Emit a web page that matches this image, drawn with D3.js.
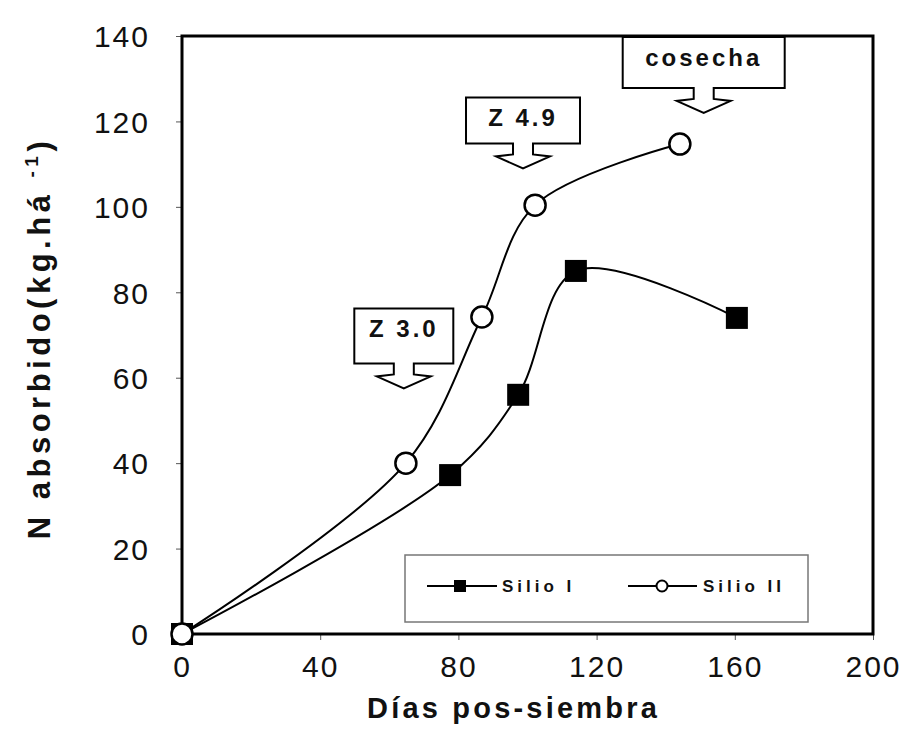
<!DOCTYPE html>
<html>
<head>
<meta charset="utf-8">
<script src="https://cdn.jsdelivr.net/npm/d3@7"></script>
<style>
  html, body { margin: 0; padding: 0; background: #fff; }
  svg { display: block; }
  text { font-family: "Liberation Sans", Arial, sans-serif; fill: #111; }
</style>
</head>
<body>
<svg id="chart" width="910" height="747"></svg>
<script>
// ---- data ----
const xTicks = [0, 40, 80, 120, 160, 200];
const yTicks = [0, 20, 40, 60, 80, 100, 120, 140];
const silio1Days = [0, 77.6, 97.3, 114, 160.6];
const silio1Values = [0, 37.2, 56, 85, 74];
const silio2Days = [0, 64.8, 86.8, 102.2, 144.1];
const silio2Values = [0, 40, 74.2, 100.4, 114.7];
const annotationLabels = ["Z 3.0", "Z 4.9", "cosecha"];
const annotationDays = [64.2, 98.7, 151];
const annotationValues = [57.5, 109, 122];
const seriesNames = ["Silio I", "Silio II"];

// ---- layout ----
const svg = d3.select("#chart");
const L = 182, R = 873, T = 36, B = 634;
const x = d3.scaleLinear().domain([0, 200]).range([L, R]);
const y = d3.scaleLinear().domain([0, 140]).range([B, T]);

// axes
const xAxis = d3.axisBottom(x).tickValues(xTicks).tickSize(6).tickPadding(16);
const yAxis = d3.axisLeft(y).tickValues(yTicks).tickSize(6).tickPadding(26);

const gx = svg.append("g").attr("transform", `translate(0,${B})`).call(xAxis);
const gy = svg.append("g").attr("transform", `translate(${L},0)`).call(yAxis);
[gx, gy].forEach(g => {
  g.select(".domain").remove();
  g.selectAll(".tick line").attr("stroke", "#555").attr("stroke-width", 1);
  g.selectAll(".tick text")
    .style("font-family", "'Liberation Sans', Arial, sans-serif")
    .style("font-size", "30px")
    .style("letter-spacing", "2px")
    .attr("fill", "#111");
});
gx.selectAll(".tick text").attr("dy", "0.71em");
gy.selectAll(".tick text").attr("dy", "0.36em");

// frame
svg.append("rect")
  .attr("x", L).attr("y", T).attr("width", R - L).attr("height", B - T)
  .attr("fill", "none").attr("stroke", "#000").attr("stroke-width", 3);

// axis titles
svg.append("text")
  .attr("x", (L + R) / 2 - 14).attr("y", 718)
  .attr("text-anchor", "middle")
  .style("font-size", "29px").style("font-weight", "bold").style("letter-spacing", "3.2px")
  .text("Días pos-siembra");

const yt = svg.append("text")
  .attr("transform", "translate(50,338) rotate(-90)")
  .attr("text-anchor", "middle")
  .style("font-size", "31px").style("font-weight", "bold").style("letter-spacing", "4.5px");
yt.append("tspan").text("N absorbido(kg.há ");
yt.append("tspan").attr("dy", -12).style("font-size", "19px").text("-1");
yt.append("tspan").attr("dy", 12).text(")");

// lines
const s1 = silio1Days.map((d, i) => [d, silio1Values[i]]);
const s2 = silio2Days.map((d, i) => [d, silio2Values[i]]);
const line = d3.line().x(d => x(d[0])).y(d => y(d[1])).curve(d3.curveCatmullRom.alpha(0.5));

svg.append("path").attr("d", line(s1)).attr("fill", "none").attr("stroke", "#000").attr("stroke-width", 2);
svg.append("path").attr("d", line(s2)).attr("fill", "none").attr("stroke", "#000").attr("stroke-width", 2);

const sq = 22;
svg.selectAll(".sq").data(s1).enter().append("rect")
  .attr("x", d => x(d[0]) - sq / 2).attr("y", d => y(d[1]) - sq / 2)
  .attr("width", sq).attr("height", sq).attr("fill", "#000");
svg.selectAll(".ci").data(s2).enter().append("circle")
  .attr("cx", d => x(d[0])).attr("cy", d => y(d[1])).attr("r", 10.5)
  .attr("fill", "#fff").attr("stroke", "#000").attr("stroke-width", 2.5);

// annotations (callout boxes with down arrows)
const boxW = [99, 114, 162], boxH = [55, 46, 51];
annotationLabels.forEach((lab, i) => {
  const tx = x(annotationDays[i]), ty = y(annotationValues[i]);
  const w = boxW[i], h = boxH[i];
  const bb = ty - 25, bt = bb - h, bl = tx - w / 2, br = tx + w / 2;
  const sw = 10, hw = 27;
  const p = d3.path();
  p.moveTo(tx - sw, bb);
  p.lineTo(bl, bb); p.lineTo(bl, bt); p.lineTo(br, bt); p.lineTo(br, bb);
  p.lineTo(tx + sw, bb);
  p.lineTo(tx + sw, bb + 11);
  p.lineTo(tx + hw, bb + 13);
  p.lineTo(tx, bb + 25);
  p.lineTo(tx - hw, bb + 13);
  p.lineTo(tx - sw, bb + 11);
  p.closePath();
  svg.append("path").attr("d", p.toString())
    .attr("fill", "#fff").attr("stroke", "#000").attr("stroke-width", 2);
  svg.append("text")
    .attr("x", tx).attr("y", bt + 29)
    .attr("text-anchor", "middle")
    .style("font-size", "24px").style("font-weight", "bold").style("letter-spacing", "3px")
    .text(lab);
});

// legend
const lg = svg.append("g");
lg.append("rect").attr("x", 405).attr("y", 555).attr("width", 403).attr("height", 67)
  .attr("fill", "#fff").attr("stroke", "#777").attr("stroke-width", 1.5);
const ly = 586;
lg.append("line").attr("x1", 427).attr("x2", 497).attr("y1", ly).attr("y2", ly)
  .attr("stroke", "#000").attr("stroke-width", 2);
lg.append("rect").attr("x", 454).attr("y", ly - 6).attr("width", 12).attr("height", 12).attr("fill", "#000");
lg.append("text").attr("x", 502).attr("y", ly + 6)
  .style("font-size", "17px").style("font-weight", "bold").style("letter-spacing", "4px")
  .text(seriesNames[0]);
lg.append("line").attr("x1", 628).attr("x2", 697).attr("y1", ly).attr("y2", ly)
  .attr("stroke", "#000").attr("stroke-width", 2);
lg.append("circle").attr("cx", 662).attr("cy", ly).attr("r", 5.5)
  .attr("fill", "#fff").attr("stroke", "#000").attr("stroke-width", 2);
lg.append("text").attr("x", 703).attr("y", ly + 6)
  .style("font-size", "17px").style("font-weight", "bold").style("letter-spacing", "4px").attr("fill", "#333")
  .text(seriesNames[1]);
</script>
</body>
</html>
